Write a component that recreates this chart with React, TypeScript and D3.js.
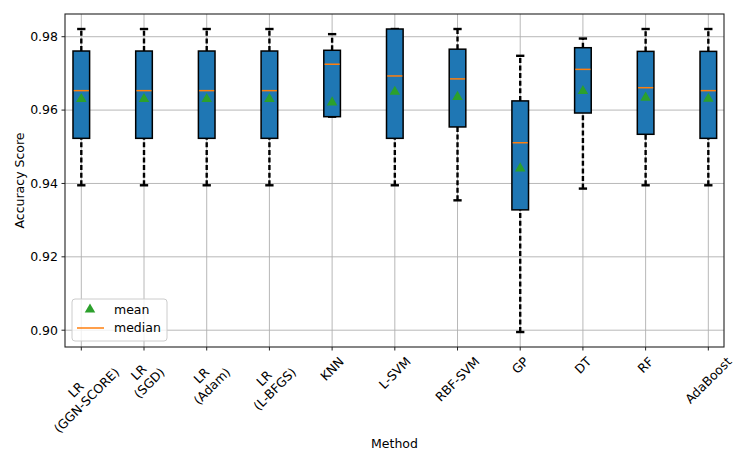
import { useEffect, useRef } from 'react';
import * as d3 from 'd3';

// method labels (multi-line via \n)
const methods = [
  'LR\n(GGN-SCORE)', 'LR\n(SGD)', 'LR\n(Adam)', 'LR\n(L-BFGS)', 'KNN', 'L-SVM',
  'RBF-SVM', 'GP', 'DT', 'RF', 'AdaBoost'
];
const whiskerLow = [0.9395, 0.9395, 0.9395, 0.9395, 0.9582, 0.9395, 0.9354, 0.8995, 0.9386, 0.9395, 0.9395];
const q1 = [0.9523, 0.9523, 0.9523, 0.9523, 0.9582, 0.9523, 0.9554, 0.9328, 0.9592, 0.9534, 0.9523];
const medians = [0.9653, 0.9653, 0.9653, 0.9653, 0.9725, 0.9693, 0.9685, 0.9511, 0.9711, 0.9661, 0.9653];
const q3 = [0.9761, 0.9761, 0.9761, 0.9761, 0.9763, 0.9821, 0.9766, 0.9625, 0.9770, 0.9760, 0.9760];
const whiskerHigh = [0.9821, 0.9821, 0.9821, 0.9821, 0.9807, 0.9821, 0.9821, 0.9748, 0.9795, 0.9821, 0.9821];
const means = [0.9630, 0.9630, 0.9630, 0.9630, 0.9621, 0.9650, 0.9636, 0.9441, 0.9652, 0.9634, 0.9631];
const yTicks = [0.90, 0.92, 0.94, 0.96, 0.98];

const FONT = '"DejaVu Sans", sans-serif';
const FS = 12.5;

export default function App() {
  const svgRef = useRef<SVGSVGElement>(null);

  useEffect(() => {
    if (!svgRef.current) return;
    const svg = d3.select(svgRef.current);
    svg.selectAll('*').remove();

    const left = 65, right = 724, top = 14, bottom = 347;
    const x = d3.scaleLinear().domain([0.74, 11.25]).range([left, right]);
    const y = d3.scaleLinear().domain([0.89542, 0.98619]).range([bottom, top]);
    const boxW = x(1.265) - x(1);
    const capW = boxW / 2;
    const idx = methods.map((_, i) => i + 1);

    // grid
    const grid = svg.append('g').attr('stroke', '#b0b0b0').attr('stroke-width', 0.9);
    grid.selectAll('line.gx').data(idx).join('line')
      .attr('x1', d => x(d)).attr('x2', d => x(d))
      .attr('y1', top).attr('y2', bottom);
    grid.selectAll('line.gy').data(yTicks).join('line')
      .attr('x1', left).attr('x2', right)
      .attr('y1', d => y(d)).attr('y2', d => y(d));

    // boxes
    const node = svg.append('g').selectAll('g').data(idx).join('g');

    node.append('line')
      .attr('x1', d => x(d)).attr('x2', d => x(d))
      .attr('y1', (d, i) => y(whiskerLow[i])).attr('y2', (d, i) => y(q1[i]))
      .attr('stroke', '#000').attr('stroke-width', 2.4).attr('stroke-dasharray', '5,2.6');
    node.append('line')
      .attr('x1', d => x(d)).attr('x2', d => x(d))
      .attr('y1', (d, i) => y(q3[i])).attr('y2', (d, i) => y(whiskerHigh[i]))
      .attr('stroke', '#000').attr('stroke-width', 2.4).attr('stroke-dasharray', '5,2.6');
    node.append('line')
      .attr('x1', d => x(d) - capW / 2).attr('x2', d => x(d) + capW / 2)
      .attr('y1', (d, i) => y(whiskerLow[i])).attr('y2', (d, i) => y(whiskerLow[i]))
      .attr('stroke', '#000').attr('stroke-width', 2.4);
    node.append('line')
      .attr('x1', d => x(d) - capW / 2).attr('x2', d => x(d) + capW / 2)
      .attr('y1', (d, i) => y(whiskerHigh[i])).attr('y2', (d, i) => y(whiskerHigh[i]))
      .attr('stroke', '#000').attr('stroke-width', 2.4);

    node.append('rect')
      .attr('x', d => x(d) - boxW / 2)
      .attr('width', boxW)
      .attr('y', (d, i) => y(q3[i]))
      .attr('height', (d, i) => y(q1[i]) - y(q3[i]))
      .attr('fill', '#1f77b4')
      .attr('stroke', '#000')
      .attr('stroke-width', 1.5);

    node.append('line')
      .attr('x1', d => x(d) - boxW / 2 + 0.75).attr('x2', d => x(d) + boxW / 2 - 0.75)
      .attr('y1', (d, i) => y(medians[i])).attr('y2', (d, i) => y(medians[i]))
      .attr('stroke', '#ff7f0e').attr('stroke-width', 1.5);

    const tri = d3.symbol().type(d3.symbolTriangle).size(48);
    node.append('path')
      .attr('d', tri)
      .attr('transform', (d, i) => `translate(${x(d)},${y(means[i])})`)
      .attr('fill', '#2ca02c');

    // spines
    svg.append('rect')
      .attr('x', left).attr('y', top)
      .attr('width', right - left).attr('height', bottom - top)
      .attr('fill', 'none').attr('stroke', '#222').attr('stroke-width', 1.1);

    // y ticks
    const yt = svg.append('g').selectAll('g').data(yTicks).join('g')
      .attr('transform', d => `translate(${left},${y(d)})`);
    yt.append('line').attr('x1', -3.5).attr('x2', 0).attr('stroke', '#222').attr('stroke-width', 1);
    yt.append('text')
      .attr('x', -7).attr('dy', '0.35em')
      .attr('text-anchor', 'end')
      .attr('font-family', FONT).attr('font-size', FS).attr('fill', '#000')
      .text(d => d3.format('.2f')(d));

    // x ticks
    svg.append('g').selectAll('line').data(idx).join('line')
      .attr('x1', d => x(d)).attr('x2', d => x(d))
      .attr('y1', bottom).attr('y2', bottom + 3.5)
      .attr('stroke', '#222').attr('stroke-width', 1);

    const lh = FS * 1.2;
    idx.forEach((d, i) => {
      const lines = methods[i].split('\n');
      const g = svg.append('g');
      const t = g.append('text')
        .attr('text-anchor', 'middle')
        .attr('font-family', FONT).attr('font-size', FS).attr('fill', '#000');
      lines.forEach((ln, j) => {
        t.append('tspan')
          .attr('x', 0)
          .attr('y', (j - (lines.length - 1) / 2) * lh)
          .attr('dy', '0.35em')
          .text(ln);
      });
      let w = 0;
      t.selectAll<SVGTSpanElement, unknown>('tspan').each(function () {
        w = Math.max(w, this.getComputedTextLength());
      });
      const h = lines.length * lh;
      const half = (w + h) / (2 * Math.SQRT2);
      g.attr('transform', `translate(${x(d)},${bottom + 7 + half}) rotate(-45)`);
    });

    // axis labels
    svg.append('text')
      .attr('x', (left + right) / 2).attr('y', 448)
      .attr('text-anchor', 'middle')
      .attr('font-family', FONT).attr('font-size', FS)
      .text('Method');
    svg.append('text')
      .attr('transform', `translate(24,${(top + bottom) / 2}) rotate(-90)`)
      .attr('text-anchor', 'middle')
      .attr('font-family', FONT).attr('font-size', FS)
      .text('Accuracy Score');

    // legend
    const lg = svg.append('g').attr('transform', 'translate(72,299)');
    lg.append('rect')
      .attr('width', 95).attr('height', 42).attr('rx', 3)
      .attr('fill', '#fff').attr('fill-opacity', 0.8)
      .attr('stroke', '#cccccc').attr('stroke-width', 1);
    lg.append('path')
      .attr('d', tri)
      .attr('transform', 'translate(18,10.5)')
      .attr('fill', '#2ca02c');
    lg.append('line')
      .attr('x1', 5).attr('x2', 32).attr('y1', 29).attr('y2', 29)
      .attr('stroke', '#ff7f0e').attr('stroke-width', 1.5);
    lg.append('text')
      .attr('x', 42).attr('y', 10.5).attr('dy', '0.35em')
      .attr('font-family', FONT).attr('font-size', FS)
      .text('mean');
    lg.append('text')
      .attr('x', 42).attr('y', 29).attr('dy', '0.35em')
      .attr('font-family', FONT).attr('font-size', FS)
      .text('median');
  }, []);

  return (
    <svg
      ref={svgRef}
      width={747}
      height={467}
      style={{ position: 'absolute', left: 0, top: 0, background: '#fff' }}
    />
  );
}
